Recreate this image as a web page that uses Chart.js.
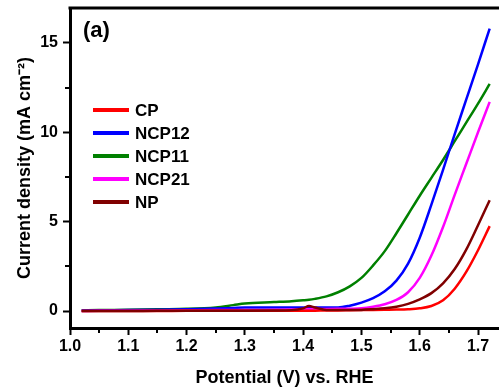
<!DOCTYPE html>
<html>
<head>
<meta charset="utf-8">
<script src="https://cdn.jsdelivr.net/npm/chart.js@4.4.0/dist/chart.umd.min.js"></script>
<style>
  html, body { margin: 0; padding: 0; background: #fff; overflow: hidden; }
  #wrap { width: 499px; height: 387px; }
</style>
</head>
<body>
<div id="wrap"><canvas id="lsvChart"></canvas></div>
<script>
// potential (V vs. RHE) and current density (mA cm-2)
const potential = [1.02, 1.05, 1.10, 1.15, 1.20, 1.25, 1.28, 1.30, 1.35, 1.38, 1.40, 1.41, 1.42, 1.44,
                   1.46, 1.48, 1.50, 1.52, 1.54, 1.56, 1.58, 1.60, 1.62, 1.64, 1.66, 1.68, 1.70, 1.72];
const cp    = [0, 0, 0, 0, 0.01, 0.01, 0.01, 0.01, 0.02, 0.02, 0.02, 0.02, 0.02, 0.03,
               0.03, 0.04, 0.05, 0.06, 0.07, 0.08, 0.1, 0.15, 0.28, 0.6, 1.25, 2.2, 3.4, 4.75];
const ncp12 = [0.03, 0.04, 0.05, 0.07, 0.1, 0.14, 0.17, 0.19, 0.2, 0.2, 0.2, 0.2, 0.2, 0.2,
               0.2, 0.3, 0.47, 0.72, 1.1, 1.7, 2.65, 4.1, 5.95, 7.9, 9.9, 11.85, 13.8, 15.8];
const ncp11 = [0.03, 0.05, 0.07, 0.1, 0.12, 0.2, 0.33, 0.42, 0.5, 0.55, 0.6, 0.63, 0.68, 0.82,
               1.05, 1.38, 1.85, 2.55, 3.35, 4.35, 5.4, 6.45, 7.45, 8.45, 9.5, 10.55, 11.6, 12.7];
const ncp21 = [0, 0.01, 0.02, 0.03, 0.04, 0.05, 0.05, 0.05, 0.07, 0.08, 0.1, 0.1, 0.1, 0.11,
               0.12, 0.13, 0.15, 0.24, 0.38, 0.62, 1.05, 1.85, 3.1, 4.7, 6.5, 8.25, 10.0, 11.7];
const np    = [0, 0, 0, 0.01, 0.01, 0.02, 0.02, 0.02, 0.03, 0.05, 0.15, 0.28, 0.2, 0.06,
               0.05, 0.05, 0.06, 0.1, 0.15, 0.24, 0.4, 0.65, 1.0, 1.55, 2.35, 3.45, 4.8, 6.2];

const seriesNames = ['CP', 'NCP12', 'NCP11', 'NCP21', 'NP'];
const seriesData = [cp, ncp12, ncp11, ncp21, np];
const seriesColors = ['#ff0000', '#0000ff', '#008000', '#ff00ff', '#800000'];
const drawOrder = [2, 4, 5, 3, 1];

const xTicks = [1.0, 1.1, 1.2, 1.3, 1.4, 1.5, 1.6, 1.7];
const xMinorTicks = [1.05, 1.15, 1.25, 1.35, 1.45, 1.55, 1.65];
const yTicks = [0, 5, 10, 15];
const yMinorTicks = [2.5, 7.5, 12.5];

const FONT = "'Liberation Sans', Arial, sans-serif";
Chart.defaults.font.family = FONT;
Chart.defaults.color = '#000';

// frame top, minor ticks, legend and panel label
const decorations = {
    id: 'decorations',
    afterDraw(chart) {
        const { ctx, chartArea: a, scales: { x, y } } = chart;
        ctx.save();
        ctx.strokeStyle = '#000';
        ctx.lineWidth = 3;
        ctx.beginPath();
        ctx.moveTo(a.left - 1.5, a.top);
        ctx.lineTo(a.right, a.top);
        ctx.stroke();

        ctx.lineWidth = 2;
        xMinorTicks.forEach(v => {
            const px = Math.round(x.getPixelForValue(v));
            ctx.beginPath();
            ctx.moveTo(px, a.bottom);
            ctx.lineTo(px, a.bottom + 5);
            ctx.stroke();
        });
        yMinorTicks.forEach(v => {
            const py = Math.round(y.getPixelForValue(v));
            ctx.beginPath();
            ctx.moveTo(a.left, py);
            ctx.lineTo(a.left - 5, py);
            ctx.stroke();
        });

        // legend
        ctx.font = 'bold 17px ' + FONT;
        ctx.textBaseline = 'middle';
        ctx.textAlign = 'left';
        chart.data.datasets.forEach((ds, i) => {
            const ly = 110 + i * 23;
            ctx.strokeStyle = ds.borderColor;
            ctx.lineWidth = 4;
            ctx.beginPath();
            ctx.moveTo(93, ly);
            ctx.lineTo(129, ly);
            ctx.stroke();
            ctx.fillStyle = '#000';
            ctx.fillText(ds.label, 135, ly + 1);
        });

        ctx.font = 'bold 22px ' + FONT;
        ctx.fillText('(a)', 83, 31);
        ctx.restore();
    }
};

new Chart(document.getElementById('lsvChart').getContext('2d'), {
    type: 'line',
    data: {
        datasets: seriesNames.map((name, k) => ({
            label: name,
            data: potential.map((v, i) => ({ x: v, y: seriesData[k][i] })),
            borderColor: seriesColors[k],
            backgroundColor: seriesColors[k],
            borderWidth: 2.5,
            pointRadius: 0,
            fill: false,
            cubicInterpolationMode: 'monotone',
            order: drawOrder[k]
        }))
    },
    options: {
        responsive: true,
        maintainAspectRatio: false,
        animation: false,
        layout: { padding: { top: 8, right: 0, bottom: 0, left: 0 } },
        plugins: {
            legend: { display: false },
            tooltip: { enabled: false }
        },
        scales: {
            x: {
                type: 'linear',
                min: 1.0,
                max: 1.736,
                afterBuildTicks: s => { s.ticks = xTicks.map(v => ({ value: v })); },
                afterFit: s => { s.height = 59; s.paddingLeft = 0; s.paddingRight = 0; },
                ticks: {
                    font: { size: 16, weight: 'bold' },
                    padding: 2,
                    callback: v => v.toFixed(1)
                },
                grid: { drawOnChartArea: false, tickLength: 7, tickWidth: 2, tickColor: '#000' },
                border: { width: 3, color: '#000' },
                title: {
                    display: true,
                    text: 'Potential (V) vs. RHE',
                    font: { size: 18, weight: 'bold', lineHeight: 1 },
                    padding: { top: 0, bottom: 0 }
                }
            },
            y: {
                type: 'linear',
                min: -0.95,
                max: 16.95,
                afterBuildTicks: s => { s.ticks = yTicks.map(v => ({ value: v })); },
                afterFit: s => { s.width = 70; s.paddingTop = 0; s.paddingBottom = 0; },
                ticks: {
                    font: { size: 16, weight: 'bold' },
                    padding: 5
                },
                grid: { drawOnChartArea: false, tickLength: 7, tickWidth: 2, tickColor: '#000' },
                border: { width: 3, color: '#000' },
                title: {
                    display: true,
                    text: 'Current density (mA cm\u207B\u00B2)',
                    font: { size: 18, weight: 'bold' },
                    padding: { top: 14, bottom: 0 }
                }
            }
        }
    },
    plugins: [decorations]
});
</script>
</body>
</html>
